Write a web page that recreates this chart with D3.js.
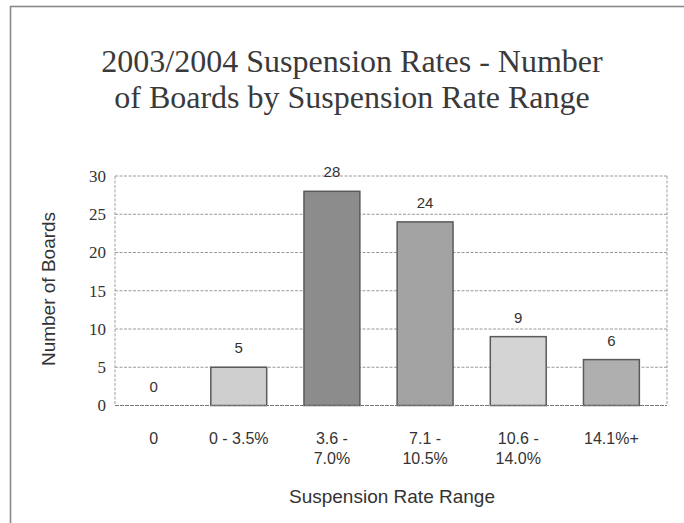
<!DOCTYPE html>
<html>
<head>
<meta charset="utf-8">
<script src="https://cdn.jsdelivr.net/npm/d3@7"></script>
<style>
  html, body { margin: 0; padding: 0; background: #fff; }
  svg { display: block; }
  .serif { font-family: "Liberation Serif", "Tinos", "Times New Roman", Times, "Nimbus Roman", "Nimbus Roman No9 L", "FreeSerif", "DejaVu Serif", "Noto Serif", Georgia, serif; }
  .sans { font-family: "Liberation Sans", Arial, Helvetica, sans-serif; }
</style>
</head>
<body>
<script>
// ---- data ----
const titleLines = ["2003/2004 Suspension Rates - Number", "of Boards by Suspension Rate Range"];
const categories = ["0", "0 - 3.5%", "3.6 - 7.0%", "7.1 - 10.5%", "10.6 - 14.0%", "14.1%+"];
const categoryLines = [["0"], ["0 - 3.5%"], ["3.6 -", "7.0%"], ["7.1 -", "10.5%"], ["10.6 -", "14.0%"], ["14.1%+"]];
const boards = [0, 5, 28, 24, 9, 6];
const yTicks = [0, 5, 10, 15, 20, 25, 30];
const xTitle = "Suspension Rate Range";
const yTitle = "Number of Boards";

// ---- styles ----
const barColors = ["#bdbdbd", "#cfcfcf", "#8c8c8c", "#a3a3a3", "#d4d4d4", "#afafaf"];

const W = 684, H = 523;
const svg = d3.select("body").append("svg").attr("width", W).attr("height", H);

// outer frame (extends past right / bottom like the scan)
svg.append("rect").attr("x", 10.5).attr("y", 6.5).attr("width", 760).attr("height", 600)
  .attr("fill", "none").attr("stroke", "#8a8a8a").attr("stroke-width", 1.6);

const plotLeft = 115, plotRight = 667, plotTop = 176, plotBottom = 405.5;

const x = d3.scaleBand().domain(categories).range([99, 658]).paddingInner(0.4).paddingOuter(0.2);
const y = d3.scaleLinear().domain([0, 30]).range([plotBottom, plotTop]);

// title
const title = svg.append("text").attr("class", "serif").attr("x", 352).attr("y", 72)
  .attr("text-anchor", "middle").style("font-size", "32px").attr("fill", "#3a3a3a");
titleLines.forEach((t, i) => title.append("tspan").attr("x", 352).attr("dy", i === 0 ? 0 : 36).text(t));

// gridlines
svg.append("g").selectAll("line").data(yTicks.filter(d => d > 0)).join("line")
  .attr("x1", plotLeft).attr("x2", plotRight)
  .attr("y1", d => y(d)).attr("y2", d => y(d))
  .attr("stroke", "#9a9a9a").attr("stroke-width", 1).attr("stroke-dasharray", "3,1.5");

// plot frame: left / right edges
svg.append("line").attr("x1", plotLeft).attr("x2", plotLeft).attr("y1", plotTop).attr("y2", plotBottom)
  .attr("stroke", "#a0a0a0").attr("stroke-width", 1).attr("stroke-dasharray", "3,1.5");
svg.append("line").attr("x1", plotRight).attr("x2", plotRight).attr("y1", plotTop).attr("y2", plotBottom)
  .attr("stroke", "#a0a0a0").attr("stroke-width", 1).attr("stroke-dasharray", "3,1.5");

// y axis tick labels
const yAxis = d3.axisLeft(y).tickValues(yTicks).tickSize(0).tickPadding(9);
const gy = svg.append("g").attr("transform", `translate(${plotLeft},0)`).call(yAxis)
  .attr("font-family", null).attr("font-size", null);
gy.select(".domain").remove();
gy.selectAll("text").attr("class", "serif").style("font-size", "17px").attr("fill", "#333");

// bars
svg.append("g").selectAll("rect").data(boards).join("rect")
  .attr("x", (d, i) => x(categories[i]))
  .attr("y", d => y(d))
  .attr("width", x.bandwidth())
  .attr("height", d => y(0) - y(d))
  .attr("fill", (d, i) => barColors[i])
  .attr("stroke", (d) => d > 0 ? "#5a5a5a" : "none")
  .attr("stroke-width", 1.5);

// baseline
svg.append("line").attr("x1", plotLeft).attr("x2", plotRight).attr("y1", plotBottom).attr("y2", plotBottom)
  .attr("stroke", "#777").attr("stroke-width", 1.2).attr("stroke-dasharray", "4,1");

// value labels
svg.append("g").selectAll("text").data(boards).join("text")
  .attr("class", "sans")
  .attr("x", (d, i) => x(categories[i]) + x.bandwidth() / 2 + (d === 0 ? 8 : 0))
  .attr("y", d => y(d) - 14)
  .attr("text-anchor", "middle")
  .style("font-size", "15px").attr("fill", "#333")
  .text(d => d);

// x axis category labels
const xAxis = d3.axisBottom(x).tickSize(0).tickFormat("");
const gx = svg.append("g").attr("transform", `translate(0,${plotBottom})`).call(xAxis);
gx.select(".domain").remove();
gx.selectAll(".tick").each(function(d, i) {
  const t = d3.select(this).append("text").attr("class", "sans")
    .attr("text-anchor", "middle").attr("y", 38)
    .style("font-size", "16px").attr("fill", "#333")
    .attr("dx", i === 0 ? 8 : 0);
  categoryLines[i].forEach((line, j) => t.append("tspan").attr("x", 0).attr("dy", j === 0 ? 0 : 20).text(line));
});

// axis titles
svg.append("text").attr("class", "sans").attr("x", 392).attr("y", 503).attr("text-anchor", "middle")
  .style("font-size", "19px").attr("fill", "#333")
  .text(xTitle);
svg.append("text").attr("class", "sans").attr("transform", "translate(55,289) rotate(-90)").attr("text-anchor", "middle")
  .style("font-size", "19px").attr("fill", "#333")
  .text(yTitle);
</script>
</body>
</html>
